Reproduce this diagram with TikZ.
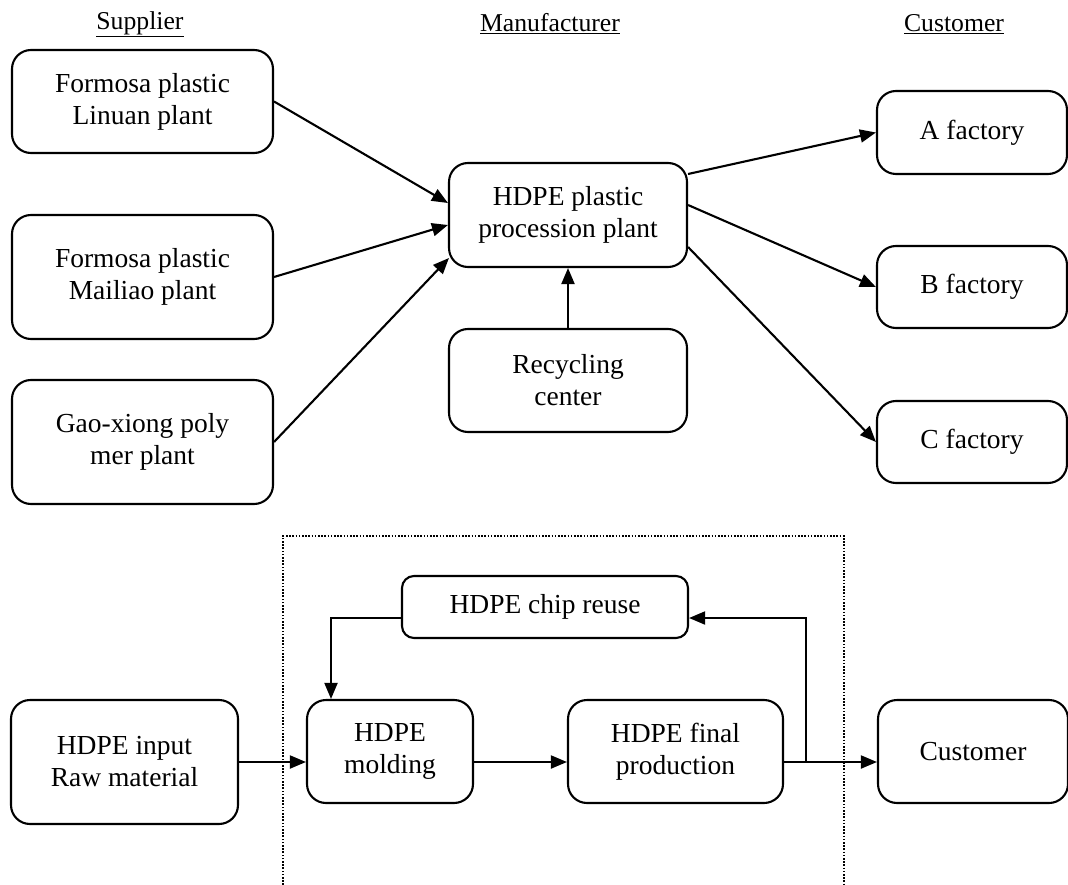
\documentclass[tikz,border=0pt]{standalone}
\usepackage{fontspec}
\setmainfont{Liberation Serif}
\usetikzlibrary{arrows.meta}
\begin{document}
\begin{tikzpicture}[x=1pt,y=-1pt,
  box/.style={draw, line width=2.1pt, rounded corners=19pt, inner sep=0pt, align=center,
    font=\fontsize{27.5}{32}\selectfont},
  smallbox/.style={box, rounded corners=12pt},
  hdr/.style={inner sep=0pt, font=\fontsize{25.7}{30}\selectfont},
  conn/.style={line width=2.1pt, -{Triangle[length=16pt,width=13pt]}},
  bconn/.style={line width=1.9pt, -{Triangle[length=16pt,width=13pt]}},
  frame/.style={line width=1.4pt, dash pattern=on 1.6pt off 1.6pt}
]
\useasboundingbox (0,0) rectangle (1068,885);

% headers
\node[hdr] (hs) at (140,24) {\underline{Supplier}};
\node[hdr] (hm) at (550,24) {\underline{Manufacturer}};
\node[hdr] (hc) at (954,24) {\underline{Customer}};

% top network
\node[box, minimum width=261pt, minimum height=103pt] (s1) at (142.5,101.5) {Formosa plastic\\Linuan plant};
\node[box, minimum width=261pt, minimum height=124pt] (s2) at (142.5,277) {Formosa plastic\\Mailiao plant};
\node[box, minimum width=261pt, minimum height=124pt] (s3) at (142.5,442) {Gao-xiong poly\\mer plant};
\node[box, minimum width=238pt, minimum height=104pt] (p) at (568,215) {HDPE plastic\\procession plant};
\node[box, minimum width=238pt, minimum height=103pt] (r) at (568,380.5) {Recycling\\center};
\node[box, minimum width=190pt, minimum height=83pt] (fa) at (972,132.5) {A factory};
\node[box, minimum width=190pt, minimum height=82pt] (fb) at (972,287) {B factory};
\node[box, minimum width=190pt, minimum height=82pt] (fc) at (972,442) {C factory};

\draw[conn] (s1.east) -- ([yshift=12pt]p.west);
\draw[conn] (s2.east) -- ([yshift=-10pt]p.west);
\draw[conn] (s3.east) -- ([xshift=1pt,yshift=-43pt]p.west);
\draw[conn] (r.north) -- (p.south);
\draw[conn] ([yshift=41pt]p.east) -- (fa.west);
\draw[conn] ([yshift=10pt]p.east) -- (fb.west);
\draw[conn] ([yshift=-32pt]p.east) -- (fc.west);

% bottom process
\draw[frame] (283,885) -- (283,536) -- (844,536) -- (844,885);
\node[box, minimum width=227pt, minimum height=124pt] (hin) at (124.5,762) {HDPE input\\Raw material};
\node[box, minimum width=166pt, minimum height=103pt] (mold) at (390,751.5) {HDPE\\molding};
\node[box, minimum width=215pt, minimum height=103pt] (fin) at (675.5,751.5) {HDPE final\\production};
\node[box, minimum width=190pt, minimum height=103pt] (cust) at (973,751.5) {Customer};
\node[smallbox, minimum width=286pt, minimum height=62pt] (chip) at (545,607) {HDPE chip reuse};

\coordinate (br) at (806,762);
\draw[bconn] (hin.east) -- (hin.east -| mold.west);
\draw[bconn] (mold.east |- hin.east) -- (fin.west |- hin.east);
\draw[bconn] (fin.east |- hin.east) -- (cust.west |- hin.east);
\draw[bconn] (br) |- ([yshift=-11pt]chip.east);
\draw[bconn] ([yshift=-11pt]chip.west) -| ([xshift=-59pt]mold.north);
\end{tikzpicture}
\end{document}
